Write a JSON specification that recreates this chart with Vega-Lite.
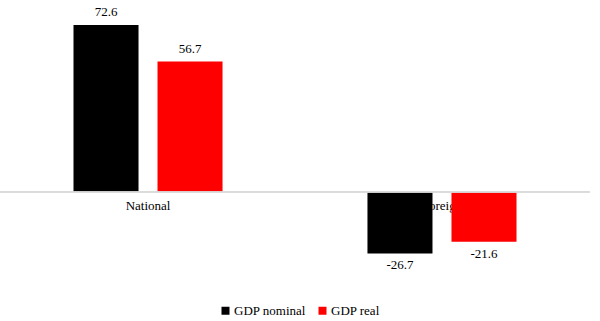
{
  "$schema": "https://vega.github.io/schema/vega-lite/v6.json",
  "width": 590,
  "height": 276,
  "autosize": {"type": "none"},
  "padding": {"top": 8, "left": 0, "right": 10, "bottom": 37},
  "background": "white",
  "config": {"view": {"stroke": null}, "font": "Liberation Serif"},
  "data": {"values": [
    {"region": "National", "series": "GDP nominal", "value": 72.6},
    {"region": "National", "series": "GDP real", "value": 56.7},
    {"region": "Foreign", "series": "GDP nominal", "value": -26.7},
    {"region": "Foreign", "series": "GDP real", "value": -21.6}
  ]},
  "layer": [
    {
      "transform": [{"filter": "datum.series === 'GDP nominal'"}],
      "mark": {"type": "text", "fontSize": 13, "baseline": "top", "dy": 8, "color": "#000000"},
      "encoding": {
        "x": {"field": "region", "type": "nominal", "sort": ["National", "Foreign"],
          "scale": {"paddingInner": 0.493, "paddingOuter": 0.25}, "axis": null},
        "y": {"datum": 0, "type": "quantitative", "scale": {"domain": [-40, 80], "nice": false}, "axis": null},
        "text": {"field": "region"}
      }
    },
    {
      "mark": {"type": "bar"},
      "encoding": {
        "x": {"field": "region", "type": "nominal", "sort": ["National", "Foreign"]},
        "xOffset": {"field": "series", "type": "nominal", "scale": {"paddingInner": 0.226, "paddingOuter": 0}},
        "y": {"field": "value", "type": "quantitative"},
        "color": {"field": "series", "type": "nominal",
          "scale": {"domain": ["GDP nominal", "GDP real"], "range": ["#000000", "#ff0000"]},
          "legend": {"title": null, "orient": "none", "legendX": 219, "legendY": 296, "direction": "horizontal", "symbolType": "square", "symbolSize": 64,
            "symbolStrokeWidth": 0, "labelFontSize": 13, "labelFont": "Liberation Serif", "columnPadding": 10, "labelOffset": 2}}
      }
    },
    {
      "mark": {"type": "rule", "color": "#d9d9d9", "strokeWidth": 1},
      "encoding": {"y": {"datum": 0, "type": "quantitative"}}
    },
    {
      "transform": [{"filter": "datum.value >= 0"}],
      "mark": {"type": "text", "fontSize": 13, "baseline": "bottom", "dy": -6, "color": "#000000"},
      "encoding": {
        "x": {"field": "region", "type": "nominal", "sort": ["National", "Foreign"]},
        "xOffset": {"field": "series", "type": "nominal"},
        "y": {"field": "value", "type": "quantitative"},
        "text": {"field": "value", "type": "nominal"}
      }
    },
    {
      "transform": [{"filter": "datum.value < 0"}],
      "mark": {"type": "text", "fontSize": 13, "baseline": "top", "dy": 6, "color": "#000000"},
      "encoding": {
        "x": {"field": "region", "type": "nominal", "sort": ["National", "Foreign"]},
        "xOffset": {"field": "series", "type": "nominal"},
        "y": {"field": "value", "type": "quantitative"},
        "text": {"field": "value", "type": "nominal"}
      }
    }
  ]
}
